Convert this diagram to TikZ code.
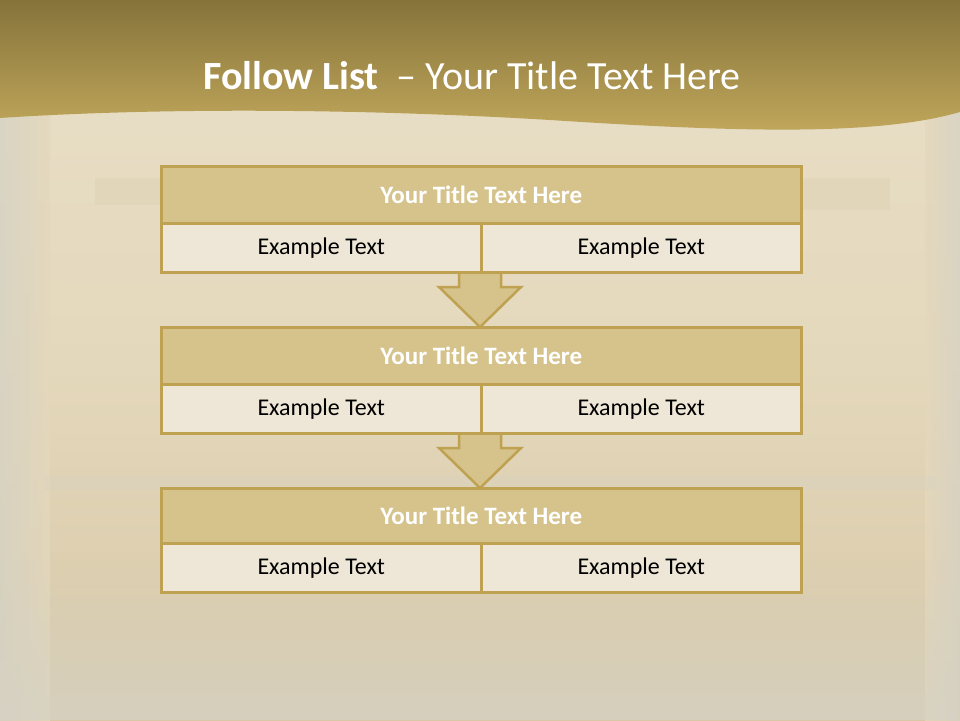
\documentclass[tikz,border=0pt]{standalone}
\usepackage{fontspec}
\setmainfont{Carlito}
\usetikzlibrary{calc,fadings}
\definecolor{bgtop}{HTML}{E9E0C8}
\definecolor{bgmid}{HTML}{E4D8BC}
\definecolor{bgbot}{HTML}{D8C8A6}
\definecolor{bgedge}{HTML}{D6D2C4}
\definecolor{hdtop}{HTML}{85733A}
\definecolor{hdbot}{HTML}{C2A85C}
\definecolor{ttlfill}{HTML}{D5C38B}
\definecolor{rowfill}{HTML}{EEE6D6}
\definecolor{bordc}{HTML}{BFA152}
\tikzset{
  ttlbox/.style={draw=bordc, line width=2.5pt, fill=ttlfill},
  rowbox/.style={draw=bordc, line width=2.5pt, fill=rowfill},
  ttltext/.style={text=white, font=\fontsize{25}{30}\selectfont\bfseries},
  rowtext/.style={text=black, font=\fontsize{24}{29}\selectfont},
  arrowshape/.style={draw=bordc, line width=2.5pt, fill=ttlfill, line join=miter}
}
\begin{document}
\begin{tikzpicture}[x=1pt,y=-1pt]
\useasboundingbox (0,0) rectangle (960,720);
% background
\shade[top color=bgtop, bottom color=bgbot, middle color=bgmid] (0,0) rectangle (960,720);
\shade[left color=bgedge, right color=bgmid, opacity=0.8] (0,100) rectangle (50,720);
\shade[right color=bgedge, left color=bgmid, opacity=0.8] (925,100) rectangle (960,720);
\fill[bgedge, path fading=north, opacity=0.8] (0,560) rectangle (960,720);
\fill[bgbot, opacity=0.25] (95,178) rectangle (160,205);
\fill[bgbot, opacity=0.25] (800,178) rectangle (890,210);
\fill[bgedge, opacity=0.35] (45,476) rectangle (935,490);
% header
\shade[top color=hdtop, bottom color=hdbot]
  (0,0) -- (960,0) -- (960,112)
  .. controls (880,135) and (750,133) .. (550,120)
  .. controls (350,108) and (150,108) .. (0,118) -- cycle;
\node (hdr) at (472,76) {\fontsize{40}{48}\selectfont\color{white}\textbf{Follow List}\ \ – Your Title Text Here};
% arrows (drawn before boxes)
\foreach \t/\b/\n in {271/327/a, 432/488/b}{
  \draw[arrowshape] (459,\t-2) -- (459,\t+16) -- (439,\t+16) -- (480,\b) -- (521,\t+16) -- (501,\t+16) -- (501,\t-2);
}
% blocks
\foreach \top/\mid/\bot/\n in {165/222/271/1, 326/383/432/2, 487/542/591/3}{
  \node[ttlbox, minimum width=640pt, minimum height={\mid-\top}, inner sep=0pt, anchor=north west] (t\n) at (160,\top) {};
  \node[ttltext] (tt\n) at (t\n.center) {Your Title Text Here};
  \node[rowbox, minimum width=320pt, minimum height={\bot-\mid}, inner sep=0pt, anchor=north west] (l\n) at (160,\mid) {};
  \node[rowbox, minimum width=320pt, minimum height={\bot-\mid}, inner sep=0pt, anchor=north west] (r\n) at (480,\mid) {};
  \node[rowtext] at (l\n.center) {Example Text};
  \node[rowtext] at (r\n.center) {Example Text};
}
\end{tikzpicture}
\end{document}
